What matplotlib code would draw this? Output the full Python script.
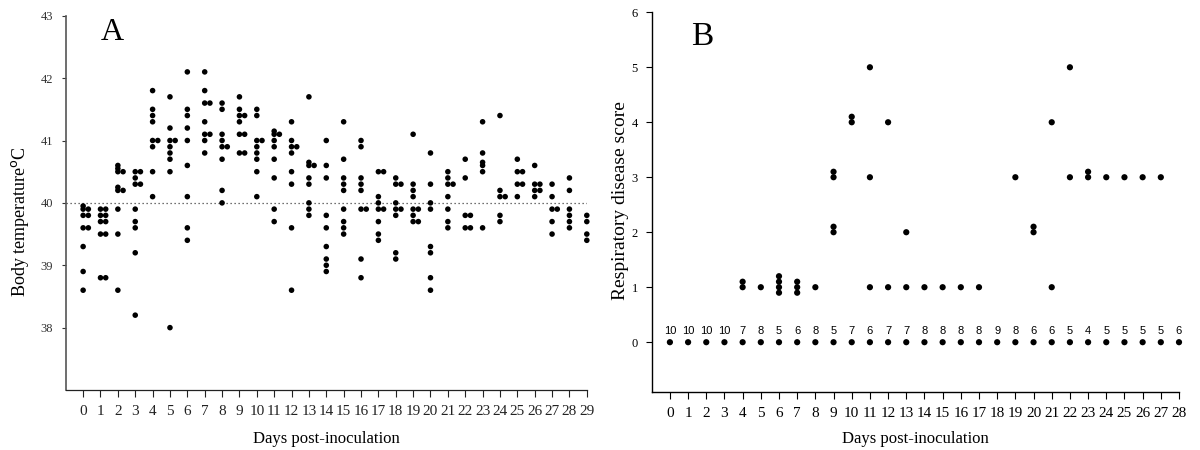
import matplotlib
matplotlib.use('Agg')
import matplotlib.pyplot as plt
from collections import Counter

# ---------------- Panel A data: body temperature per day ----------------
days_a = list(range(30))
temps_by_day = [
    [39.95, 39.9, 39.9, 39.8, 39.8, 39.6, 39.6, 39.3, 38.9, 38.6],      # 0
    [39.9, 39.9, 39.8, 39.8, 39.7, 39.7, 39.5, 39.5, 38.8, 38.8],       # 1
    [40.6, 40.55, 40.5, 40.5, 40.25, 40.2, 40.2, 39.9, 39.5, 38.6],     # 2
    [40.5, 40.5, 40.4, 40.3, 40.3, 39.9, 39.7, 39.6, 39.2, 38.2],       # 3
    [41.8, 41.5, 41.4, 41.3, 41.0, 41.0, 40.9, 40.5, 40.1],             # 4
    [41.7, 41.2, 41.0, 41.0, 40.9, 40.8, 40.7, 40.5, 38.0],             # 5
    [42.1, 41.5, 41.4, 41.2, 41.0, 40.6, 40.1, 39.6, 39.4],             # 6
    [42.1, 41.8, 41.6, 41.6, 41.3, 41.1, 41.1, 41.0, 40.8],             # 7
    [41.6, 41.5, 41.1, 41.0, 40.9, 40.9, 40.7, 40.2, 40.0],             # 8
    [41.7, 41.5, 41.4, 41.4, 41.3, 41.1, 41.1, 40.8, 40.8],             # 9
    [41.5, 41.4, 41.0, 41.0, 40.9, 40.8, 40.7, 40.5, 40.1],             # 10
    [41.15, 41.1, 41.1, 41.0, 40.9, 40.7, 40.4, 39.9, 39.7],            # 11
    [41.3, 41.0, 40.9, 40.9, 40.8, 40.5, 40.3, 39.6, 38.6],             # 12
    [41.7, 40.65, 40.6, 40.6, 40.4, 40.3, 40.0, 39.9, 39.8],            # 13
    [41.0, 40.6, 40.4, 39.8, 39.6, 39.3, 39.1, 39.0, 38.9],             # 14
    [41.3, 40.7, 40.4, 40.3, 40.2, 39.9, 39.7, 39.6, 39.5],             # 15
    [41.0, 40.9, 40.4, 40.3, 40.2, 39.9, 39.9, 39.1, 38.8],             # 16
    [40.5, 40.5, 40.1, 40.0, 39.9, 39.9, 39.7, 39.5, 39.4],             # 17
    [40.4, 40.3, 40.3, 40.0, 39.9, 39.9, 39.8, 39.2, 39.1],             # 18
    [41.1, 40.3, 40.2, 40.1, 39.9, 39.9, 39.8, 39.7, 39.7],             # 19
    [40.8, 40.3, 40.0, 39.9, 39.3, 39.2, 38.8, 38.6],                   # 20
    [40.5, 40.4, 40.3, 40.3, 40.1, 39.9, 39.7, 39.6],                   # 21
    [40.7, 40.4, 39.8, 39.8, 39.6, 39.6],                               # 22
    [41.3, 40.8, 40.65, 40.6, 40.5, 39.6],                              # 23
    [41.4, 40.2, 40.1, 40.1, 39.8, 39.7],                               # 24
    [40.7, 40.5, 40.5, 40.3, 40.3, 40.1],                               # 25
    [40.6, 40.3, 40.3, 40.2, 40.2, 40.1],                               # 26
    [40.3, 40.1, 39.9, 39.9, 39.7, 39.5],                               # 27
    [40.4, 40.2, 39.9, 39.8, 39.7, 39.6],                               # 28
    [39.8, 39.7, 39.5, 39.4],                                           # 29
]
temp_threshold = 40.0
a_yticks = [38, 39, 40, 41, 42, 43]

# ---------------- Panel B data: respiratory disease score ----------------
days_b = list(range(29))
n_score_zero = [10, 10, 10, 10, 7, 8, 5, 6, 8, 5, 7, 6, 7, 7, 8,
                8, 8, 8, 9, 8, 6, 6, 5, 4, 5, 5, 5, 5, 6]
b_day = [4, 5, 6, 7, 8, 9, 9, 10, 11, 11, 11, 12, 12, 13, 13,
         14, 15, 16, 17, 19, 20, 21, 21, 22, 22, 23, 24, 25, 26, 27]
b_score = [1, 1, 1, 1, 1, 2, 3, 4, 5, 3, 1, 4, 1, 2, 1,
           1, 1, 1, 1, 3, 2, 4, 1, 5, 3, 3, 3, 3, 3, 3]
b_count = [2, 1, 4, 3, 1, 2, 2, 2, 1, 1, 1, 1, 1, 1, 1,
           1, 1, 1, 1, 1, 2, 1, 1, 1, 1, 2, 1, 1, 1, 1]
b_yticks = [0, 1, 2, 3, 4, 5, 6]

# ---------------- Figure ----------------
fig = plt.figure(figsize=(12, 4.5), dpi=100)
serif = 'Liberation Serif'
sans = 'Liberation Sans'

axA = fig.add_axes([0.0548, 0.1333, 0.4342, 0.8317])
axB = fig.add_axes([0.5431, 0.1296, 0.4394, 0.8431])

# Panel A
xs, ys = [], []
for d, vals in zip(days_a, temps_by_day):
    seen = Counter()
    for v in vals:
        k = seen[v]
        seen[v] += 1
        xs.append(d + 0.3 * k)
        ys.append(v)
axA.scatter(xs, ys, s=16, color='black', edgecolors='none', zorder=3, clip_on=False)
axA.plot([-1, 29], [temp_threshold, temp_threshold], linestyle=(0, (1, 2.2)),
         color='#444444', linewidth=0.9, zorder=1)
axA.set_xlim(-1, 29)
axA.set_ylim(37, 43)
axA.set_xticks(days_a)
axA.set_xticklabels([str(d) for d in days_a], fontfamily=serif, fontsize=11)
axA.set_yticks(a_yticks)
axA.set_yticklabels([str(t) for t in a_yticks], fontfamily=serif, fontsize=9)
axA.tick_params(axis='x', direction='out', length=5, width=0.8, pad=6, colors='#222222')
axA.tick_params(axis='y', direction='out', length=3, width=0.8, pad=6, colors='#333333')
for sp in ['top', 'right']:
    axA.spines[sp].set_visible(False)
axA.spines['left'].set_color('#555555')
axA.spines['bottom'].set_color('#222222')
axA.spines['left'].set_linewidth(1.2)
axA.spines['bottom'].set_linewidth(0.9)
axA.set_xlabel('Days post-inoculation', fontfamily=serif, fontsize=12, labelpad=9)
axA.set_ylabel('Body temperature$^{\\mathrm{o}}$C', fontfamily=serif, fontsize=13)
axA.yaxis.set_label_coords(-0.066, 0.449)
axA.text(0.09, 0.995, 'A', transform=axA.transAxes, fontfamily=serif, fontsize=23,
         ha='center', va='top')

# Panel B
stack_offsets = [0.0, 0.1, -0.1, 0.2]
bx, by = [], []
for d in days_b:
    bx.append(d)
    by.append(0)
for d, sc, c in zip(b_day, b_score, b_count):
    for k in range(c):
        bx.append(d)
        by.append(sc + stack_offsets[k])
axB.scatter(bx, by, s=20, color='black', edgecolors='none', zorder=3, clip_on=False)
for d, n in zip(days_b, n_score_zero):
    axB.text(d, 0.21, str(n), fontfamily=sans, fontsize=8, ha='center', va='center')
axB.set_xlim(-1, 28)
axB.set_ylim(-0.9, 6)
axB.set_xticks(days_b)
axB.set_xticklabels([str(d) for d in days_b], fontfamily=serif, fontsize=11)
axB.set_yticks(b_yticks)
axB.set_yticklabels([str(t) for t in b_yticks], fontfamily=serif, fontsize=9)
axB.tick_params(axis='x', direction='out', length=5, width=0.8, pad=6)
axB.tick_params(axis='y', direction='out', length=4, width=0.8, pad=6)
for sp in ['top', 'right']:
    axB.spines[sp].set_visible(False)
axB.spines['left'].set_linewidth(1.0)
axB.spines['bottom'].set_linewidth(1.0)
axB.set_xlabel('Days post-inoculation', fontfamily=serif, fontsize=12, labelpad=8)
axB.set_ylabel('Respiratory disease score', fontfamily=serif, fontsize=14)
axB.yaxis.set_label_coords(-0.043, 0.505)
axB.text(0.095, 0.975, 'B', transform=axB.transAxes, fontfamily=serif, fontsize=24,
         ha='center', va='top')

fig.savefig('out.png', dpi=100)
